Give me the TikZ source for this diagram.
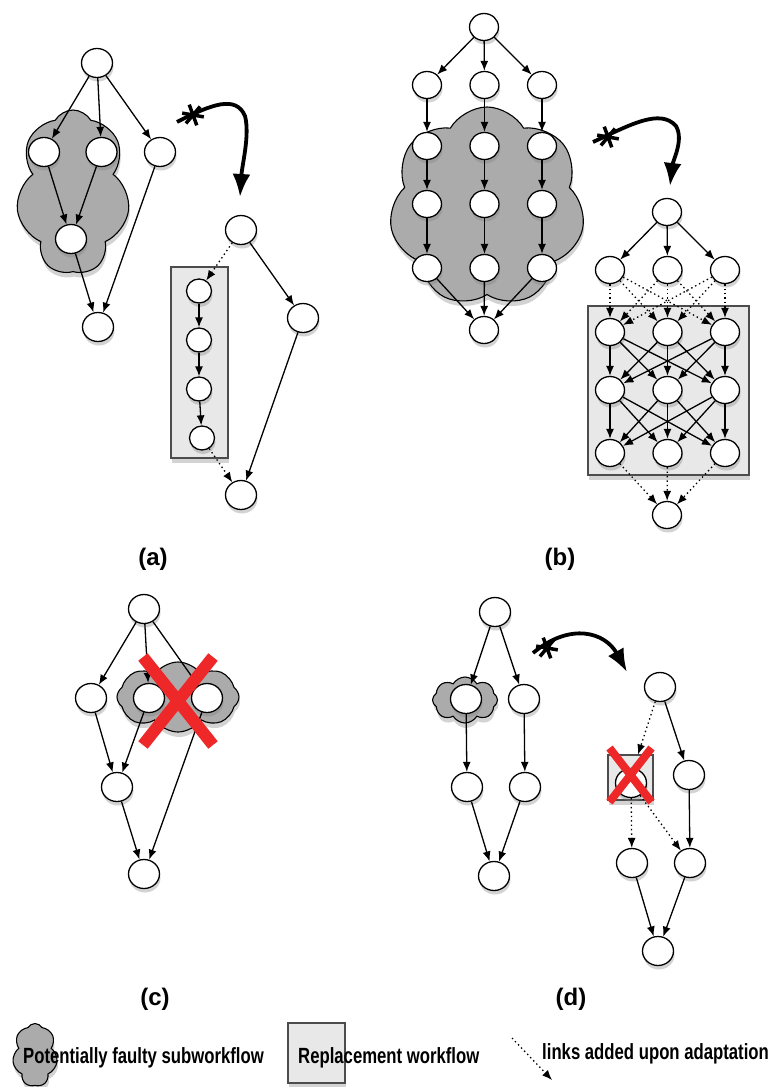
\documentclass[tikz,border=0pt]{standalone}
\usepackage{fontspec}
\usepackage{graphicx}
\setmainfont{Liberation Sans}
\usetikzlibrary{shapes.geometric,shapes.symbols,shadows,arrows.meta,positioning}
\definecolor{xred}{RGB}{238,40,40}

\begin{document}
\begin{tikzpicture}[x=1pt, y=-1pt,
    >={Latex[length=10pt,width=8pt]},
    task/.style = {ellipse, draw=black, line width=1.3pt, fill=white,
minimum width=31pt, minimum height=29pt, inner sep=0pt,
drop shadow={shadow xshift=1pt, shadow yshift=-4pt, opacity=0.35}},
    subtask/.style = {task, minimum width=29pt, minimum height=27pt},
    mini/.style = {task, minimum width=25pt, minimum height=24pt},
    faulty/.style = {cloud, cloud puffs=7, cloud puff arc=120, cloud ignores aspect,
draw=black, line width=1.1pt, fill=black!33, inner sep=0pt,
drop shadow={shadow xshift=1pt, shadow yshift=-5pt, opacity=0.35}},
    spare/.style = {rectangle, draw=black!70, line width=1.1pt, fill=black!9,
inner sep=0pt, drop shadow={shadow xshift=1pt, shadow yshift=-5pt, opacity=0.35}},
    link/.style = {->, line width=1.3pt},
    added/.style = {link, dash pattern=on 1.4pt off 3pt},
    adapt/.style = {-{Latex[length=23pt,width=18pt]}, line width=3.8pt},
    notch/.style = {line width=3.5pt},
    veto/.style = {draw=xred, line width=12pt},
    tag/.style = {font=\bfseries\fontsize{24}{24}\selectfont},
    note/.style = {font=\bfseries\fontsize{22}{22}\selectfont, anchor=west, inner sep=0pt},
    node distance=57.5pt
]
  \useasboundingbox (0,0) rectangle (773,1087);

  % (a) faulty part and its replacement
  \node (acloud) [faulty, minimum width=114pt, minimum height=164pt] at (73,192) {};
  \node (abox)   [spare, minimum width=57pt, minimum height=191pt] at (199.5,362.5) {};

  \node (a0)  [task] at (97,63) {};
  \node (a1)  [task] at (44,152) {};
  \node (a2)  [task, right of=a1] {};
  \node (a3)  [task] at (160,152) {};
  \node (a4)  [task] at (71,239) {};
  \node (a5)  [task] at (98,327) {};
  \node (ar0) [task] at (241,230) {};
  \node (ar1) [task] at (303,318) {};
  \node (ar2) [task] at (241,495) {};
  \node (ac1) [mini] at (199,291) {};
  \node (ac2) [mini, below of=ac1, node distance=49pt] {};
  \node (ac3) [mini, below of=ac2, node distance=49pt] {};
  \node (ac4) [mini] at (202,438) {};

  \draw[link] (a0) edge (a1) edge (a2) edge (a3);
  \draw[link] (a1) edge (a4) (a2) edge (a4) (a4) edge (a5) (a3) edge (a5);
  \draw[link] (ar0) edge (ar1) (ar1) edge (ar2);
  \draw[link] (ac1) edge (ac2) (ac2) edge (ac3) (ac3) edge (ac4);
  \draw[added] (ar0) edge (ac1) (ac4) edge (ar2);

  \coordinate (aflip) at (177,122);
  \coordinate (aland) at (240,197);
  \coordinate (astar) at (193,115);
  \draw[adapt] (aflip) .. controls (212,104) and (236,95) .. (245,116) .. controls (250,135) and (242,165) .. (aland);
  \draw[notch] (astar) ++(70:11) -- ++(250:22) (astar) ++(10:11) -- ++(190:22) (astar) ++(130:11) -- ++(310:22);

  % (b)
  \node (bcloud) [faulty, minimum width=196pt, minimum height=200pt] at (487,207) {};
  \node (bbox)   [spare, minimum width=161pt, minimum height=169pt] at (668.5,390.5) {};

  \node (b0)  [subtask] at (484,27) {};
  \node (b11) [subtask] at (427,85) {};
  \node (b12) [subtask, right of=b11] {};
  \node (b13) [subtask, right of=b12] {};
  \node (b21) [subtask] at (427,146) {};
  \node (b22) [subtask, right of=b21] {};
  \node (b23) [subtask, right of=b22] {};
  \node (b31) [subtask] at (427,204) {};
  \node (b32) [subtask, right of=b31] {};
  \node (b33) [subtask, right of=b32] {};
  \node (b41) [subtask] at (427,268) {};
  \node (b42) [subtask, right of=b41] {};
  \node (b43) [subtask, right of=b42] {};
  \node (b5)  [subtask] at (484,330) {};

  \draw[link] (b0) edge (b11) edge (b12) edge (b13);
  \draw[link] (b11) edge (b21) (b21) edge (b31) (b31) edge (b41) (b41) edge (b5);
  \draw[link] (b12) edge (b22) (b22) edge (b32) (b32) edge (b42) (b42) edge (b5);
  \draw[link] (b13) edge (b23) (b23) edge (b33) (b33) edge (b43) (b43) edge (b5);

  \node (br0)  [subtask] at (667,212) {};
  \node (br11) [subtask] at (610,270) {};
  \node (br12) [subtask, right of=br11] {};
  \node (br13) [subtask, right of=br12] {};
  \node (br21) [subtask] at (610,332) {};
  \node (br22) [subtask, right of=br21] {};
  \node (br23) [subtask, right of=br22] {};
  \node (br31) [subtask] at (610,390) {};
  \node (br32) [subtask, right of=br31] {};
  \node (br33) [subtask, right of=br32] {};
  \node (br41) [subtask] at (610,453) {};
  \node (br42) [subtask, right of=br41] {};
  \node (br43) [subtask, right of=br42] {};
  \node (br5)  [subtask] at (667,515) {};

  \draw[link] (br0) edge (br11) edge (br12) edge (br13);
  \draw[added] (br11) edge (br21) edge (br22) edge (br23);
  \draw[added] (br12) edge (br21) edge (br22) edge (br23);
  \draw[added] (br13) edge (br21) edge (br22) edge (br23);
  \draw[link] (br21) edge (br31) edge (br32) edge (br33);
  \draw[link] (br22) edge (br31) edge (br32) edge (br33);
  \draw[link] (br23) edge (br31) edge (br32) edge (br33);
  \draw[link] (br31) edge (br41) edge (br42) edge (br43);
  \draw[link] (br32) edge (br41) edge (br42) edge (br43);
  \draw[link] (br33) edge (br41) edge (br42) edge (br43);
  \draw[added] (br41) edge (br5) (br42) edge (br5) (br43) edge (br5);

  \coordinate (bflip) at (593,142);
  \coordinate (bland) at (670,186);
  \coordinate (bstar) at (608,137);
  \draw[adapt] (bflip) .. controls (630,125) and (660,108) .. (676,126) .. controls (684,140) and (673,160) .. (bland);
  \draw[notch] (bstar) ++(70:11) -- ++(250:22) (bstar) ++(10:11) -- ++(190:22) (bstar) ++(130:11) -- ++(310:22);

  % (c)
  \node (ccloud) [faulty, cloud puffs=8, cloud puff arc=110, minimum width=122pt, minimum height=70pt] at (178,697) {};
  \node (c0) [task] at (144,609) {};
  \node (c1) [task] at (91,698) {};
  \node (c2) [task] at (149,698) {};
  \node (c3) [task] at (207,698) {};
  \node (c4) [task] at (117,787) {};
  \node (c5) [task] at (144,874) {};

  \draw[link] (c0) edge (c1) edge (c2) edge (c3);
  \draw[link] (c1) edge (c4) (c2) edge (c4) (c4) edge (c5) (c3) edge (c5);

  \coordinate (cgone) at (178,701);
  \draw[veto] (cgone) ++(-35,-44) -- ++(70,88) (cgone) ++(35,-44) -- ++(-70,88);

  % (d)
  \node (dcloud) [faulty, cloud puffs=8, minimum width=65pt, minimum height=46pt] at (465,700) {};
  \node (dbox)   [spare, minimum width=45pt, minimum height=45pt] at (630.5,777.5) {};

  \node (d0)  [task] at (495,612) {};
  \node (d1)  [task] at (466,699) {};
  \node (d2)  [task] at (524,699) {};
  \node (d3)  [task] at (467,787) {};
  \node (d4)  [task] at (525,787) {};
  \node (d5)  [task] at (494,876) {};
  \node (dr0) [task] at (660,687) {};
  \node (dr1) [task] at (631,783) {};
  \node (dr2) [task] at (689,775) {};
  \node (dr3) [task] at (632,863) {};
  \node (dr4) [task] at (690,863) {};
  \node (dr5) [task] at (658,951) {};

  \draw[link] (d0) edge (d1) edge (d2);
  \draw[link] (d1) edge (d3) (d2) edge (d4) (d3) edge (d5) (d4) edge (d5);
  \draw[link] (dr0) edge (dr2) (dr2) edge (dr4) (dr3) edge (dr5) (dr4) edge (dr5);
  \draw[added] (dr0) edge (dbox) (dr1) edge (dr3) (dr1) edge (dr4);

  \coordinate (dflip) at (533,653);
  \coordinate (dland) at (627,672);
  \coordinate (dstar) at (547,648);
  \draw[adapt] (dflip) .. controls (570,622) and (605,632) .. (dland);
  \draw[notch] (dstar) ++(70:11) -- ++(250:22) (dstar) ++(10:11) -- ++(190:22) (dstar) ++(130:11) -- ++(310:22);

  \coordinate (dgone) at (630.5,775);
  \draw[veto, line width=8pt] (dgone) ++(-21,-27) -- ++(42,54) (dgone) ++(21,-27) -- ++(-42,54);

  % captions
  \node (taga) [tag] at (153,559) {(a)};
  \node (tagb) [tag] at (560,559) {(b)};
  \node (tagc) [tag] at (155,999) {(c)};
  \node (tagd) [tag] at (571,999) {(d)};

  % legend
  \node (keyfaulty) [faulty, minimum width=45pt, minimum height=63pt] at (35,1055) {};
  \node (keyspare)  [spare, minimum width=57pt, minimum height=60pt] at (316.5,1053) {};
  \coordinate (keyfrom) at (512,1038);
  \coordinate (keyto) at (552,1080);
  \draw[added] (keyfrom) -- (keyto);
  \node (keytxt1) [note] at (23,1058) {\scalebox{0.76}[1]{Potentially faulty subworkflow}};
  \node (keytxt2) [note] at (298,1058) {\scalebox{0.76}[1]{Replacement workflow}};
  \node (keytxt3) [note] at (542,1054) {\scalebox{0.76}[1]{links added upon adaptation}};

\end{tikzpicture}
\end{document}
